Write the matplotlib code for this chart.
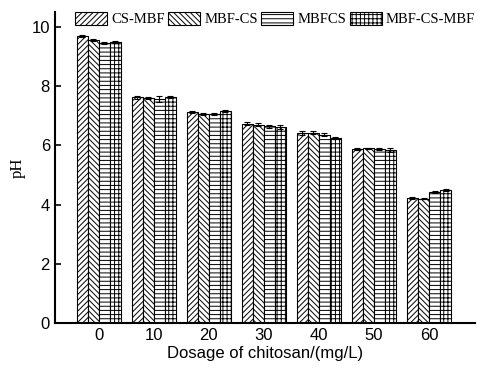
import matplotlib
matplotlib.use("Agg")
import matplotlib.pyplot as plt
import numpy as np

plt.rcParams['hatch.linewidth'] = 0.7

categories = ["0", "10", "20", "30", "40", "50", "60"]
series_names = ["CS-MBF", "MBF-CS", "MBFCS", "MBF-CS-MBF"]
cs_mbf = [9.70, 7.62, 7.12, 6.72, 6.42, 5.88, 4.22]
mbf_cs = [9.55, 7.60, 7.05, 6.70, 6.42, 5.90, 4.20]
mbfcs = [9.45, 7.55, 7.05, 6.65, 6.35, 5.88, 4.43]
mbf_cs_mbf = [9.50, 7.63, 7.15, 6.62, 6.25, 5.85, 4.49]
err_cs_mbf = [0.03, 0.04, 0.03, 0.05, 0.06, 0.03, 0.02]
err_mbf_cs = [0.03, 0.03, 0.03, 0.05, 0.05, 0.02, 0.02]
err_mbfcs = [0.03, 0.10, 0.04, 0.05, 0.05, 0.04, 0.04]
err_mbf_cs_mbf = [0.03, 0.03, 0.03, 0.07, 0.03, 0.06, 0.03]
hatches = ["//////", "\\\\\\\\\\\\", "----", "++++"]

values = [cs_mbf, mbf_cs, mbfcs, mbf_cs_mbf]
errors = [err_cs_mbf, err_mbf_cs, err_mbfcs, err_mbf_cs_mbf]

fig = plt.figure(figsize=(4.81, 3.76), dpi=100)
ax = fig.add_axes([0.114, 0.141, 0.874, 0.827])

x = np.arange(len(categories))
w = 0.2
for i in range(4):
    pos = x + (i - 1.5) * w
    ax.bar(pos, values[i], w, color="white", edgecolor="black", hatch=hatches[i],
           linewidth=0.8, label=series_names[i], zorder=2)
    ax.errorbar(pos, values[i], yerr=errors[i], fmt="none", ecolor="black",
                elinewidth=0.8, capsize=2.5, capthick=0.8, zorder=3)

ax.set_xlim(-0.8, 6.84)
ax.set_ylim(0, 10.5)
ax.set_yticks([0, 2, 4, 6, 8, 10])
ax.set_xticks(x)
ax.set_xticklabels(categories)
for s in ["top", "right"]:
    ax.spines[s].set_visible(False)
for s in ["left", "bottom"]:
    ax.spines[s].set_linewidth(1.5)
ax.tick_params(direction="in", width=1.2, length=4, labelsize=12)
for lab in ax.get_xticklabels() + ax.get_yticklabels():
    lab.set_fontfamily("Liberation Sans")
ax.set_xlabel("Dosage of chitosan/(mg/L)", fontsize=12, family="Liberation Sans", labelpad=2)
ax.set_ylabel("pH", fontsize=12, family="Liberation Serif", labelpad=4)

leg = ax.legend(loc="upper left", bbox_to_anchor=(0.035, 1.02), ncol=4, frameon=False,
                prop={"family": "Liberation Serif", "size": 10.5},
                handlelength=2.2, handleheight=1.0, handletextpad=0.25,
                columnspacing=0.25, borderaxespad=0.0)

fig.savefig("out.png", dpi=100)
